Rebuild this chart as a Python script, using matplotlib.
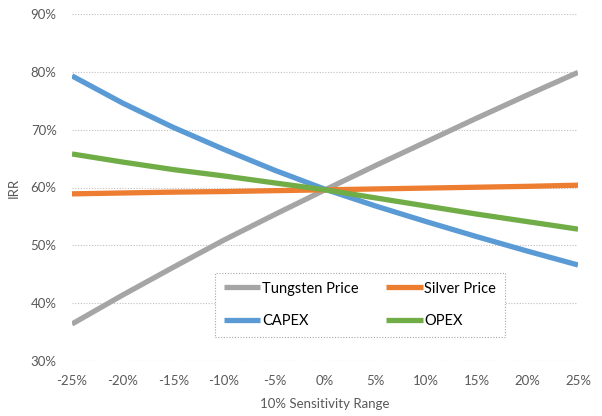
import matplotlib
matplotlib.use('Agg')
import matplotlib.pyplot as plt
from matplotlib.ticker import FuncFormatter

matplotlib.rcParams['font.family'] = ['Lato', 'DejaVu Sans']
matplotlib.rcParams['font.size'] = 8

# sensitivity steps (%) and IRR (%) for each driver
sens = [-25, -20, -15, -10, -5, 0, 5, 10, 15, 20, 25]
tungsten = [36.4, 41.4, 46.2, 50.9, 55.3, 59.6, 63.8, 67.9, 72.0, 76.0, 79.9]
silver = [58.9, 59.05, 59.2, 59.3, 59.45, 59.6, 59.75, 59.9, 60.05, 60.2, 60.4]
capex = [79.3, 74.6, 70.4, 66.6, 63.0, 59.7, 56.8, 54.1, 51.5, 49.0, 46.6]
opex = [65.8, 64.4, 63.1, 62.0, 60.8, 59.6, 58.2, 56.8, 55.4, 54.1, 52.8]

series = [('Tungsten Price', tungsten, '#a5a5a5'),
          ('Silver Price', silver, '#ed7d31'),
          ('CAPEX', capex, '#5b9bd5'),
          ('OPEX', opex, '#70ad47')]

fig = plt.figure(figsize=(6.02, 4.16), dpi=100)
ax = fig.add_axes([72 / 602, 1 - 361 / 416, 506 / 602, 347 / 416])

lines = {}
for name, vals, col in series:
    ln, = ax.plot(sens, vals, color=col, linewidth=3.8, label=name,
                  solid_capstyle='butt', solid_joinstyle='round')
    lines[name] = ln

ax.set_xlim(-25, 25)
ax.set_ylim(30, 90)
ax.set_xticks(range(-25, 26, 5))
ax.set_yticks(range(30, 91, 10))
pct = FuncFormatter(lambda v, p: '%d%%' % v)
ax.xaxis.set_major_formatter(pct)
ax.yaxis.set_major_formatter(pct)
ax.grid(axis='y', color='#bfbfbf', linestyle=(0, (1, 1.5)), linewidth=0.8)
ax.set_axisbelow(True)
for s in ax.spines.values():
    s.set_visible(False)
ax.tick_params(length=0, colors='#595959', labelsize=9.5)
ax.tick_params(axis='x', pad=10)
ax.tick_params(axis='y', pad=11)
ax.set_xlabel('10% Sensitivity Range', color='#595959', fontsize=9.5,
              labelpad=8)
ax.set_ylabel('IRR', color='#595959', fontsize=9.5, labelpad=8)

# row-wise order: Tungsten / Silver on top, CAPEX / OPEX below
order = ['Tungsten Price', 'CAPEX', 'Silver Price', 'OPEX']
leg = ax.legend([lines[k] for k in order], order, ncol=2, loc='center',
                fontsize=10.5,
                bbox_to_anchor=(360 / 602, 1 - 305 / 416),
                bbox_transform=fig.transFigure,
                handlelength=2.5, handletextpad=0.1, columnspacing=1.9,
                labelspacing=1.3, borderpad=0.6, borderaxespad=0,
                fancybox=False, framealpha=1, edgecolor='#a6a6a6')
leg.get_frame().set_linestyle((0, (1, 1.5)))
leg.get_frame().set_linewidth(0.8)

fig.savefig('out.png', dpi=100)
